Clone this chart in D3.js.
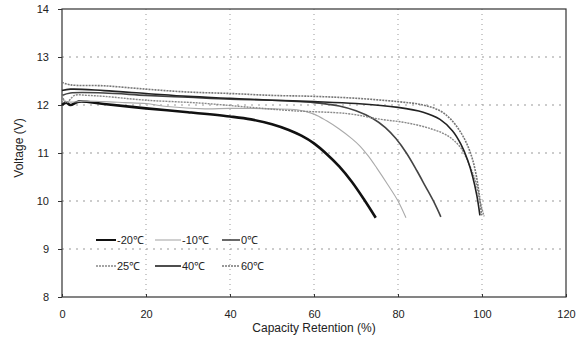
<!DOCTYPE html>
<html>
<head>
  <script src="https://d3js.org/d3.v7.min.js"></script>
  <style>
    body { margin: 0; background: #fff; }
    text { font-family: "Liberation Sans", Arial, sans-serif; fill: #222; }
  </style>
</head>
<body>
<svg></svg>
<script>
// series: [capacity %, voltage V]
var seriesNames = ["-20℃", "-10℃", "0℃", "25℃", "40℃", "60℃"];

var m20 = [[0,12.0],[1,12.05],[2,12.0],[4,12.07],[10,12.02],[20,11.93],[30,11.85],[40,11.76],[45,11.7],[50,11.6],[54,11.48],[57,11.36],[60,11.2],[63,10.98],[66,10.72],[69,10.4],[72,10.02],[74.7,9.65]];
var m10 = [[0,12.1],[2,12.06],[5,12.08],[10,12.07],[15,12.05],[20,12.03],[25,11.97],[34,11.92],[40,11.93],[50,11.92],[56,11.9],[60,11.81],[63,11.67],[66,11.5],[69,11.3],[71,11.14],[73,10.93],[75,10.68],[77.5,10.35],[80,10.0],[81.9,9.65]];
var p0 = [[0,12.2],[2,12.25],[10,12.25],[20,12.2],[30,12.16],[40,12.12],[50,12.1],[60,12.05],[66,11.98],[70,11.88],[74,11.72],[77,11.53],[79.5,11.3],[82,11.0],[84.5,10.63],[86.5,10.31],[88.6,9.97],[90.2,9.67]];
var p25 = [[0,12.2],[1,12.05],[3,12.2],[6,12.2],[10,12.18],[20,12.1],[33,12.04],[45,11.95],[55,11.88],[68,11.82],[76,11.7],[82,11.63],[88,11.5],[92,11.35],[95,11.1],[97,10.75],[98.5,10.4],[99.5,10.0],[100.5,9.68]];
var p40 = [[0,12.3],[2,12.33],[10,12.3],[20,12.24],[30,12.18],[40,12.14],[50,12.1],[60,12.07],[70,12.03],[80,11.95],[86,11.85],[90,11.7],[93,11.46],[95,11.18],[96.6,10.85],[97.8,10.5],[98.8,10.1],[99.5,9.7]];
var p60 = [[0,12.47],[2,12.42],[10,12.4],[20,12.33],[30,12.27],[40,12.24],[50,12.2],[60,12.18],[70,12.14],[80,12.07],[86,12.0],[90,11.88],[92.6,11.7],[95,11.42],[96.6,11.15],[97.8,10.85],[98.7,10.5],[99.4,10.1],[99.9,9.7]];

var xTicks = [0, 20, 40, 60, 80, 100, 120];
var yTicks = [8, 9, 10, 11, 12, 13, 14];

var seriesData = [m20, m10, p0, p25, p40, p60];
var styles = [
  {stroke: "#111", width: 2.6, dash: null},
  {stroke: "#aaa", width: 1.1, dash: null},
  {stroke: "#444", width: 1.6, dash: null},
  {stroke: "#888", width: 1.4, dash: "2,1"},
  {stroke: "#222", width: 1.6, dash: null},
  {stroke: "#777", width: 1.6, dash: "2,1"}
];

var W = 587, H = 343;
var margin = {top: 9, right: 21, bottom: 46, left: 62};
var width = W - margin.left - margin.right,
    height = H - margin.top - margin.bottom;

var svg = d3.select("svg").attr("width", W).attr("height", H)
  .append("g")
    .attr("transform", "translate(" + margin.left + "," + margin.top + ")");

var x = d3.scaleLinear().domain([0, 120]).range([0, width]);
var y = d3.scaleLinear().domain([8, 14]).range([height, 0]);

// grid
svg.append("g").selectAll("line").data(xTicks.slice(1, -1)).join("line")
  .attr("x1", d => x(d)).attr("x2", d => x(d))
  .attr("y1", 0).attr("y2", height)
  .attr("stroke", "#999").attr("stroke-dasharray", "1,4");
svg.append("g").selectAll("line").data(yTicks.slice(1, -1)).join("line")
  .attr("y1", d => y(d)).attr("y2", d => y(d))
  .attr("x1", 0).attr("x2", width)
  .attr("stroke", "#999").attr("stroke-dasharray", "2,5");

// axes
var xAxis = svg.append("g")
  .attr("transform", "translate(0," + height + ")")
  .call(d3.axisBottom(x).tickValues(xTicks).tickSize(-3).tickPadding(13));
var yAxis = svg.append("g")
  .call(d3.axisLeft(y).tickValues(yTicks).tickFormat(d3.format("d")).tickSize(4).tickPadding(9));
[xAxis, yAxis].forEach(function(a) {
  a.select(".domain").remove();
  a.selectAll("line").attr("stroke", "#333");
  a.selectAll("text").style("font-size", "11px").attr("fill", "#222");
});

// frame
svg.append("rect")
  .attr("width", width).attr("height", height)
  .attr("fill", "none").attr("stroke", "#333").attr("stroke-width", 1.2);

// curves
var line = d3.line().x(d => x(d[0])).y(d => y(d[1])).curve(d3.curveCatmullRom.alpha(0.5));
seriesData.forEach(function(s, i) {
  svg.append("path").datum(s)
    .attr("fill", "none")
    .attr("stroke", styles[i].stroke)
    .attr("stroke-width", styles[i].width)
    .attr("stroke-dasharray", styles[i].dash)
    .attr("d", line);
});

// legend
var legX = [34, 93, 160], legY = [231, 257], legLen = [20, 26, 18];
seriesNames.forEach(function(n, i) {
  var col = i % 3, row = Math.floor(i / 3);
  var g = svg.append("g").attr("transform", "translate(" + legX[col] + "," + legY[row] + ")");
  g.append("line").attr("x1", 0).attr("x2", legLen[col]).attr("y1", 0).attr("y2", 0)
    .attr("stroke", styles[i].stroke)
    .attr("stroke-width", Math.min(styles[i].width, 2))
    .attr("stroke-dasharray", styles[i].dash);
  g.append("text").attr("x", legLen[col] + 1).attr("y", 4)
    .style("font-size", "11px").text(n);
});

// axis titles
svg.append("text")
  .attr("x", width / 2).attr("y", height + 35)
  .attr("text-anchor", "middle")
  .style("font-size", "12px")
  .text("Capacity Retention (%)");

svg.append("text")
  .attr("transform", "rotate(-90)")
  .attr("x", -(height / 2) + 5).attr("y", -39)
  .attr("text-anchor", "middle")
  .style("font-size", "12px")
  .text("Voltage (V)");
</script>
</body>
</html>
